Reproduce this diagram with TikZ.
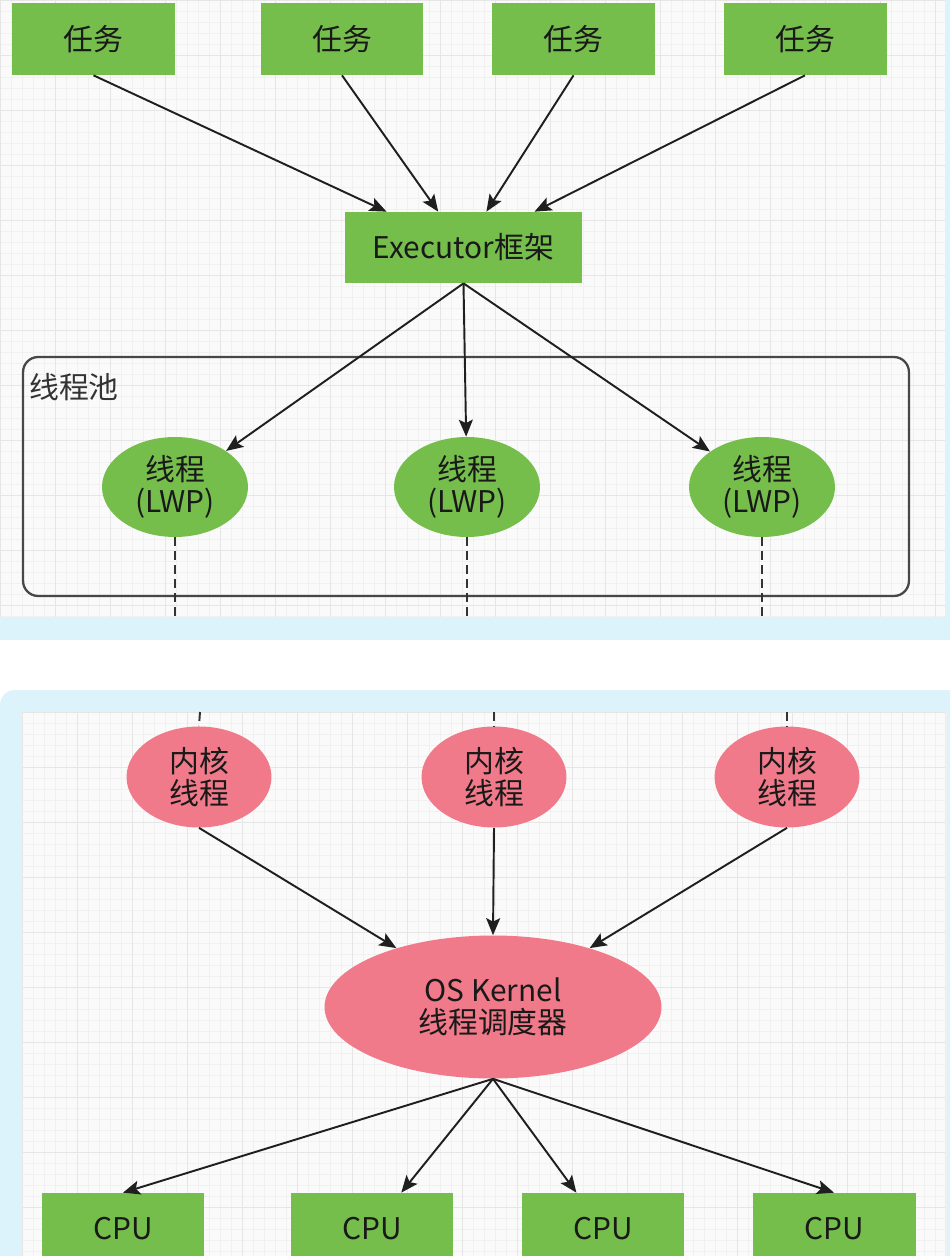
\documentclass[tikz,border=0pt]{standalone}
\usepackage{fontspec}
\setmainfont{Noto Sans CJK SC}
\usepackage{xcolor}
\usepackage{tikz}
\usetikzlibrary{arrows.meta, shapes.geometric}

\definecolor{leaf}{RGB}{118,190,76}
\definecolor{rose}{RGB}{240,122,138}
\definecolor{frame}{RGB}{221,243,251}
\definecolor{paper}{RGB}{250,250,250}
\definecolor{fine}{RGB}{241,241,241}
\definecolor{coarse}{RGB}{230,230,230}

\begin{document}
\begin{tikzpicture}[x=0.02cm, y=-0.02cm, >=Stealth]
		\tikzstyle{label} = [font=\fontsize{17}{18}\selectfont, text=black!90]
		\tikzstyle{box} = [label, fill=leaf, draw=none, minimum width=3.26cm, minimum height=1.44cm]
		\tikzstyle{lwp} = [label, ellipse, fill=leaf, align=center, inner sep=0pt, minimum width=2.92cm, minimum height=2cm]
		\tikzstyle{kern} = [label, ellipse, fill=rose, align=center, inner sep=0pt, minimum width=2.9cm, minimum height=2.02cm]
		\tikzstyle{arrow} = [line width=1.1pt, draw=black!88, -{Stealth[length=0.34cm, width=0.28cm, inset=0.07cm]}]
		\tikzstyle{link} = [line width=1.1pt, draw=black!80, dash pattern=on 0.18cm off 0.1cm]
		
		\useasboundingbox (0,0) rectangle (950,1256);
		\clip (0,0) rectangle (950,1256);
		
		% two screenshot panels with grid paper
		\fill[frame] (0,0) rectangle (950,640);
		\fill[paper] (0,0) rectangle (945,617);
		\fill[frame, rounded corners=0.3cm] (0,690) rectangle (980,1290);
		\fill[paper] (22,712) rectangle (945,1256);
		\foreach \gx in {0,11,...,945} {
			\draw[fine] (\gx,0) -- (\gx,617);
			\draw[fine] (\gx+22,712) -- (\gx+22,1256);
		}
		\foreach \gy in {0,11,...,617} \draw[fine] (0,\gy) -- (945,\gy);
		\foreach \gy in {712,723,...,1256} \draw[fine] (22,\gy) -- (945,\gy);
		\foreach \gx in {0,55,...,945} {
			\draw[coarse] (\gx,0) -- (\gx,617);
			\draw[coarse] (\gx+22,712) -- (\gx+22,1256);
		}
		\foreach \gy in {0,55,...,617} \draw[coarse] (0,\gy) -- (945,\gy);
		\foreach \gy in {712,767,...,1256} \draw[coarse] (22,\gy) -- (945,\gy);
		
		% upper panel
		\node[draw=black!72, line width=1.3pt, rounded corners=0.3cm, minimum width=17.72cm, minimum height=4.78cm] at (466,476.5) (pool) {};
		\node[label, anchor=west, text=black!80] at (23,387) (pooltag) {线程池};
		
		\node[box] at (93.5,39) (t1) {任务};
		\node[box] at (342,39) (t2) {任务};
		\node[box] at (573.5,39) (t3) {任务};
		\node[box] at (805,39) (t4) {任务};
		\node[box, minimum width=4.74cm, minimum height=1.42cm] at (463.5,247.5) (exec) {Executor框架};
		
		\node[lwp] at (175,487) (w1) {线程\\(LWP)};
		\node[lwp] at (467,487) (w2) {线程\\(LWP)};
		\node[lwp] at (762,487) (w3) {线程\\(LWP)};
		
		\coordinate (cut1) at (175,617);
		\coordinate (cut2) at (467,617);
		\coordinate (cut3) at (762,617);
		
		% lower panel
		\coordinate (top1) at (200,712);
		\coordinate (top2) at (494,712);
		\coordinate (top3) at (787,712);
		
		\node[kern] at (199,777) (k1) {内核\\线程};
		\node[kern] at (494,777) (k2) {内核\\线程};
		\node[kern] at (787,777) (k3) {内核\\线程};
		\node[kern, minimum width=6.74cm, minimum height=2.86cm] at (493,1007) (os) {OS Kernel\\线程调度器};
		
		\node[box] at (123,1229) (c1) {CPU};
		\node[box] at (372,1229) (c2) {CPU};
		\node[box] at (603,1229) (c3) {CPU};
		\node[box] at (834,1229) (c4) {CPU};
		
		\foreach \n in {1,2,3,4} \draw[arrow] (t\n.south) -- (exec);
		\foreach \n in {1,2,3} {
			\draw[arrow] (exec.south) -- (w\n);
			\draw[link] (w\n.south) -- (cut\n);
			\draw[link] (top\n) -- (k\n.north);
		}
		\draw[arrow] (k1.south) -- (os);
		\draw[arrow] (k2.south) -- (os.north);
		\draw[arrow] (k3.south) -- (os);
		\draw[arrow] (os.south) -- (c1.north);
		\draw[arrow] (os.south) -- (c2);
		\draw[arrow] (os.south) -- (c3);
		\draw[arrow] (os.south) -- (c4.north);
	\end{tikzpicture}
\end{document}
